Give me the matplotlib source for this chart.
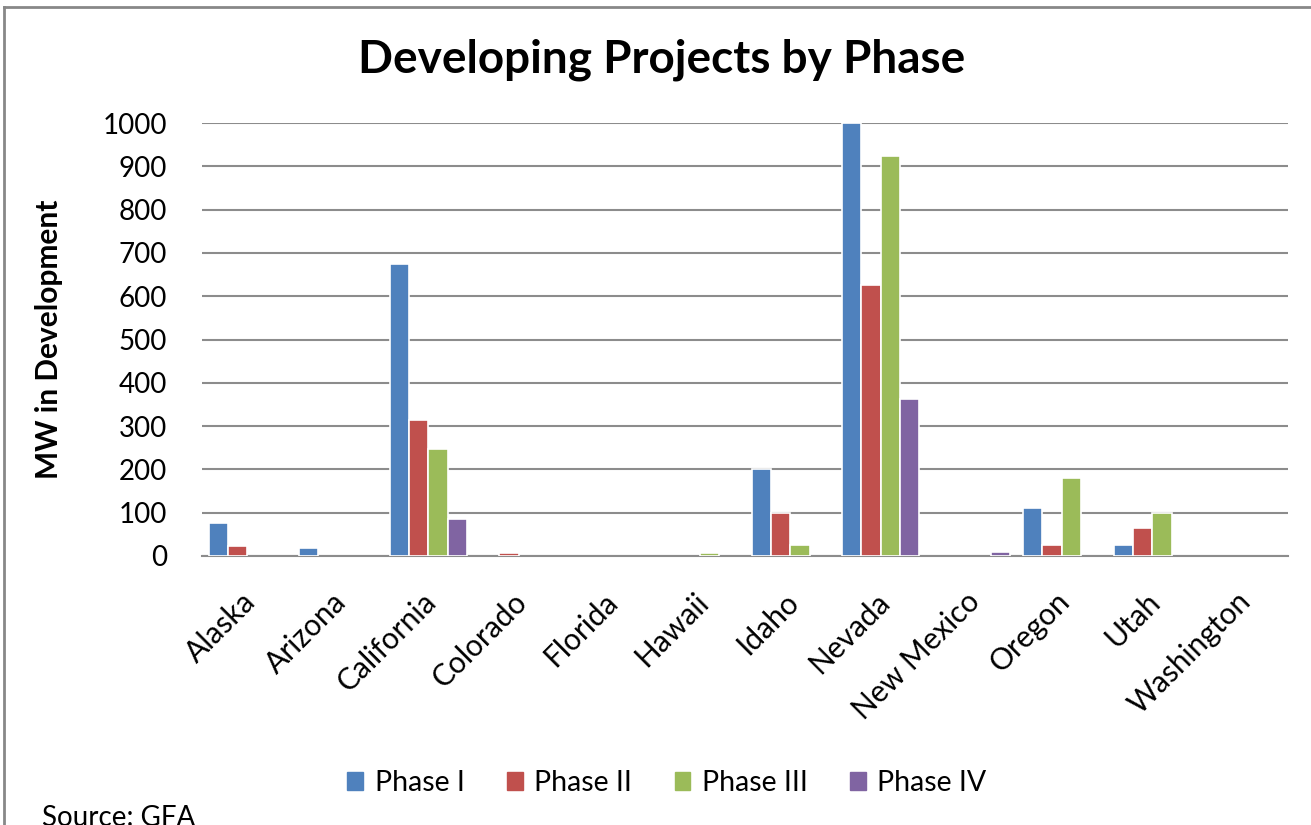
import matplotlib
matplotlib.use("Agg")
import matplotlib.pyplot as plt
import numpy as np
from matplotlib.lines import Line2D
from matplotlib.transforms import ScaledTranslation

plt.rcParams['font.family'] = ['Lato', 'DejaVu Sans']

states = ["Alaska", "Arizona", "California", "Colorado", "Florida", "Hawaii",
          "Idaho", "Nevada", "New Mexico", "Oregon", "Utah", "Washington"]
phase_names = ["Phase I", "Phase II", "Phase III", "Phase IV"]
phase1 = [76, 19, 675, 0, 0, 0, 200, 1000, 0, 110, 25, 0]
phase2 = [22, 0, 315, 7, 0, 0, 100, 625, 0, 25, 65, 0]
phase3 = [0, 0, 248, 0, 0, 7, 25, 924, 0, 180, 100, 0]
phase4 = [0, 0, 85, 0, 0, 0, 0, 362, 10, 0, 0, 0]
series = [phase1, phase2, phase3, phase4]
colors = ["#4F81BD", "#C0504D", "#9BBB59", "#8064A2"]
yticks = [0, 100, 200, 300, 400, 500, 600, 700, 800, 900, 1000]

fig = plt.figure(figsize=(13.11, 8.25), dpi=100)
ax = fig.add_axes([202/1311, 1-556/825, (1288-202)/1311, (556-123)/825])

x = np.arange(len(states))
slot = 0.213
for i, (vals, c, name) in enumerate(zip(series, colors, phase_names)):
    v = np.array(vals, dtype=float)
    xs = x + (i - 1.5) * slot
    keep = v > 0
    ax.bar(xs[keep], v[keep], width=slot, color=c, edgecolor="white",
           linewidth=1.2, label=name, zorder=3)

ax.set_xlim(-0.5, len(states) - 0.5)
ax.set_ylim(0, 1000)
ax.set_yticks(yticks)
ax.set_yticklabels([str(v) for v in yticks], fontsize=20)
ax.set_xticks(x)
ax.set_xticklabels(states, rotation=45, ha="right", rotation_mode="anchor", fontsize=21.5)
ax.tick_params(axis="both", length=0)
ax.tick_params(axis="y", pad=25)
ax.tick_params(axis="x", pad=21)
shift = ScaledTranslation(-6/100, -2/100, fig.dpi_scale_trans)
for lbl in ax.get_xticklabels():
    lbl.set_transform(lbl.get_transform() + shift)
ax.grid(axis="y", color="#8c8c8c", linewidth=1.5, zorder=0)
for s in ["top", "right", "left"]:
    ax.spines[s].set_visible(False)
ax.spines["bottom"].set_color("#8c8c8c")
ax.spines["bottom"].set_linewidth(1.5)
ax.set_ylabel("MW in Development", fontsize=21.5, fontweight="bold")
ax.yaxis.set_label_coords(-(202-63)/1086, 0.5)

fig.text(662/1311, 1-60/825, "Developing Projects by Phase", fontsize=33,
         fontweight="bold", ha="center", va="center")

handles = [plt.Rectangle((0, 0), 1, 1, color=c) for c in colors]
fig.legend(handles, phase_names, loc="center", bbox_to_anchor=(667/1311, 1-783/825),
           ncol=4, frameon=False, fontsize=20.5, handlelength=0.55, handleheight=0.55,
           handletextpad=0.4, columnspacing=1.5)

fig.text(42/1311, 1-818/825, "Source: GFA", fontsize=20, ha="left", va="center")

fig.add_artist(Line2D([4/1311, 4/1311], [0, 1-7/825], transform=fig.transFigure,
                      color="#888888", linewidth=2))
fig.add_artist(Line2D([4/1311, 1], [1-7/825, 1-7/825], transform=fig.transFigure,
                      color="#888888", linewidth=2))

fig.savefig("out.png", dpi=100)
